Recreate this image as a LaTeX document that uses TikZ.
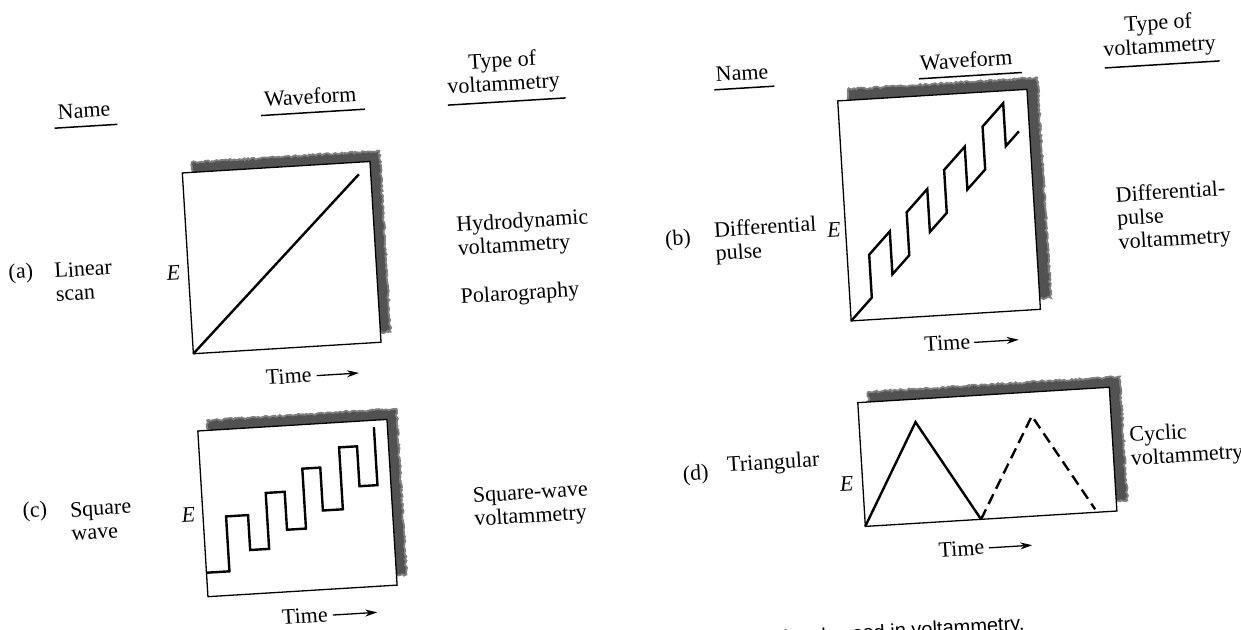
\documentclass[tikz,border=0pt]{standalone}
\usepackage{fontspec}
\setmainfont{Liberation Serif}
\newfontfamily\capfont{Liberation Sans}
\usetikzlibrary{arrows.meta,decorations.pathmorphing}
\begin{document}
\begin{tikzpicture}[x=1pt,y=-1pt,
  txt/.style={inner sep=0pt, font=\fontsize{22}{23.5}\selectfont},
  hdr/.style={txt, align=center},
  lbl/.style={txt, anchor=west, align=left},
  uline/.style={line width=1.5pt},
  plotframe/.style={draw=black, line width=1.3pt, fill=white},
  shadowbox/.style={fill=black!68, draw=black!50, line width=1.8pt, decorate,
    decoration={random steps, segment length=2pt, amplitude=1pt}},
  wave/.style={line width=2.4pt},
  dashedwave/.style={line width=2.4pt, dash pattern=on 11pt off 6pt},
  timearrow/.style={line width=1.3pt, -{Stealth[length=12pt,width=7pt]}},
]
\useasboundingbox (0,0) rectangle (1241,629);
\fill[white] (0,0) rectangle (1241,629);
\clip (0,0) rectangle (1241,629);
\begin{scope}[rotate around={3.5:(620,315)}, transform shape]

% ---------- headers, left ----------
\node[hdr] (nameL) at (97.5,78) {Name};
\draw[uline] (67,94) -- (130,94);
\node[hdr] (waveL) at (324,78) {Waveform};
\draw[uline] (274,94) -- (378,94);
\node[hdr] (typeL) at (518,66.7) {Type of\\voltammetry};
\draw[uline] (461,95) -- (579,95);

% ---------- headers, right ----------
\node[hdr] (nameR) at (756.5,81) {Name};
\draw[uline] (728,96) -- (788,96);
\node[hdr] (waveR) at (981,81.5) {Waveform};
\draw[uline] (933,97.5) -- (1036,97.5);
\node[hdr] (typeR) at (1175,69.5) {Type of\\voltammetry};
\draw[uline] (1119,98) -- (1234,98);

% ---------- (a) linear scan ----------
\path[shadowbox] (201.8,317.6) -- (389.8,317.6) -- (389.8,136.5) -- (201.8,136.5) -- cycle;
\draw[plotframe] (191.8,327.6) -- (379.8,327.6) -- (379.8,146.5) -- (191.8,146.5) -- cycle;
\coordinate (a-sw) at (191.8,327.6);
\coordinate (a-top) at (368,158.6);
\draw[wave] (a-sw) -- (a-top);
\node[txt] (aE) at (176.7,246) {\textit{E}};
\node[txt] (aTime) at (285.5,356) {Time};
\coordinate (aArrS) at (313.5,357);
\coordinate (aArrE) at (356,357);
\draw[timearrow] (aArrS) -- (aArrE);
\node[txt] (aLab) at (24.5,236.8) {(a)};
\node[lbl] (aName) at (58,248) {Linear\\scan};
\node[lbl] (aType) at (462,228.5) {Hydrodynamic\\voltammetry};
\node[lbl] (aType2) at (462,288.6) {Polarography};

% ---------- (b) differential pulse ----------
\path[shadowbox] (861.4,324) -- (1051,324) -- (1051,103.6) -- (861.4,103.6) -- cycle;
\draw[plotframe] (850.4,335) -- (1040,335) -- (1040,114.6) -- (850.4,114.6) -- cycle;
\draw[wave] (850.4,335) -- (872.4,313) -- (872.4,270) -- (894.4,248) -- (894.4,291)
  -- (912.4,273) -- (912.4,230) -- (934.4,208) -- (934.4,251) -- (952.4,233)
  -- (952.4,190) -- (974.4,168) -- (974.4,211) -- (993.4,192) -- (993.4,149)
  -- (1015.4,127) -- (1015.4,170) -- (1029.4,156);
\node[txt] (bE) at (838.8,243.2) {\textit{E}};
\node[txt] (bTime) at (945,363) {Time};
\coordinate (bArrS) at (972,364);
\coordinate (bArrE) at (1016.5,364);
\draw[timearrow] (bArrS) -- (bArrE);
\node[txt] (bLab) at (682.5,243.7) {(b)};
\node[lbl] (bName) at (719,249.3) {Differential\\pulse};
\node[lbl] (bType) at (1122,250.8) {Differential-\\pulse\\voltammetry};

% ---------- (c) square wave ----------
\path[shadowbox] (201.5,561) -- (391,561) -- (391,395) -- (201.5,395) -- cycle;
\draw[plotframe] (191.5,571) -- (381,571) -- (381,405) -- (191.5,405) -- cycle;
\draw[wave] (191.5,547) -- (214.5,547) -- (214.5,492) -- (236.5,492) -- (236.5,527)
  -- (255.5,527) -- (255.5,471) -- (274.5,471) -- (274.5,509) -- (293.5,509)
  -- (293.5,449) -- (311.5,449) -- (311.5,492) -- (331.5,492) -- (331.5,430)
  -- (349.5,430) -- (349.5,470) -- (367.5,470) -- (367.5,412);
\node[txt] (cE) at (176.9,488.3) {\textit{E}};
\node[txt] (cTime) at (287,596) {Time};
\coordinate (cArrS) at (315,597);
\coordinate (cArrE) at (359.5,597);
\draw[timearrow] (cArrS) -- (cArrE);
\node[txt] (cLab) at (24.1,475.6) {(c)};
\node[lbl] (cName) at (59,487.7) {Square\\wave};
\node[lbl] (cType) at (462,500) {Square-wave\\voltammetry};

% ---------- (d) triangular ----------
\path[shadowbox] (863,531) -- (1115,531) -- (1115,407) -- (863,407) -- cycle;
\draw[plotframe] (852,541) -- (1104,541) -- (1104,417) -- (852,417) -- cycle;
\coordinate (d-sw) at (852,541);
\coordinate (d-p1) at (908.5,440);
\coordinate (d-v1) at (968,541);
\coordinate (d-p2) at (1025,441);
\coordinate (d-end) at (1082.5,538);
\draw[wave] (d-sw) -- (d-p1) -- (d-v1);
\draw[dashedwave] (d-v1) -- (d-p2) -- (d-end);
\node[txt] (dE) at (836,497.5) {\textit{E}};
\node[txt] (dTime) at (946.5,569) {Time};
\coordinate (dArrS) at (974,570);
\coordinate (dArrE) at (1017.5,570);
\draw[timearrow] (dArrS) -- (dArrE);
\node[txt] (dLab) at (686,479.3) {(d)};
\node[lbl] (dName) at (717.7,473) {Triangular};
\node[lbl] (dType) at (1121,479.3) {Cyclic\\voltammetry};

% ---------- cut-off caption ----------
\node[anchor=base east, inner sep=0pt, font=\capfont\fontsize{20}{24}\selectfont]
  (caption) at (1005,654) {excitation signals used in voltammetry.};
\end{scope}
\end{tikzpicture}
\end{document}
